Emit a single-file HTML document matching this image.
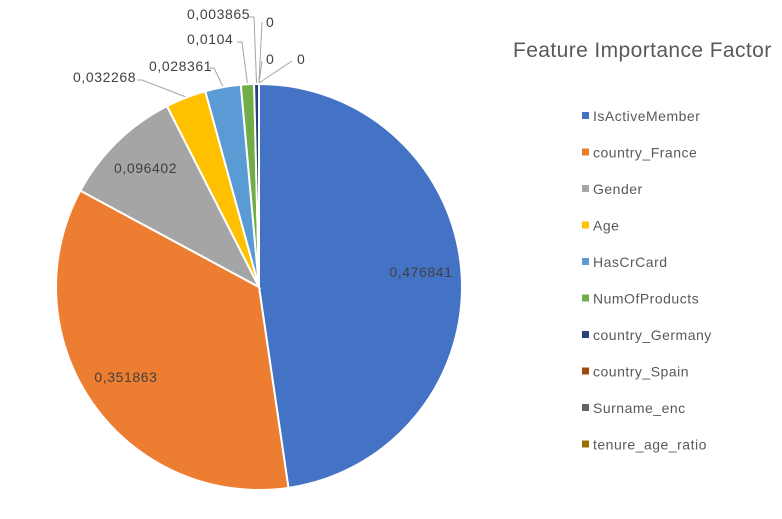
<!DOCTYPE html>
<html><head><meta charset="utf-8"><style>
body{margin:0;background:#fff;}
svg{font-family:"Liberation Sans",sans-serif;}
</style></head><body>
<svg id="chart" width="782" height="514">
<rect width="782" height="514" fill="#fff"/>
<text x="513" y="57" font-size="21" letter-spacing="0.4" fill="#595959">Feature Importance Factor</text>
<g id="slices"></g><g id="leaders"></g><g id="labels"></g><g id="legend"></g>
</svg>
<script>
const categories=["IsActiveMember","country_France","Gender","Age","HasCrCard","NumOfProducts","country_Germany","country_Spain","Surname_enc","tenure_age_ratio"];
const values=[0.476841,0.351863,0.096402,0.032268,0.028361,0.0104,0.003865,0,0,0];
const labels=["0,476841","0,351863","0,096402","0,032268","0,028361","0,0104","0,003865","0","0","0"];
const colors=["#4472C4","#ED7D31","#A5A5A5","#FFC000","#5B9BD5","#70AD47","#264478","#9E480E","#636363","#997300"];
const NS="http://www.w3.org/2000/svg";
const cx=259,cy=287,R=203;
const total=values.reduce((a,b)=>a+b,0);
function pt(a,r){return [cx+r*Math.sin(a),cy-r*Math.cos(a)];}
const gS=document.getElementById('slices'),gL=document.getElementById('labels'),gD=document.getElementById('leaders'),gG=document.getElementById('legend');
const ext=[null,null,null,[73,82,"start"],[149,71,"start"],[187,44,"start"],[187,19,"start"],[266,27,"start"],[266,64,"start"],[297,64,"start"]];
const elbow=[null,null,null,[142,80],[214,68],[242,42],[254,17],[262,22],[262,61],[292,61]];
let a0=0;
values.forEach((v,i)=>{
  const a1=a0+v/total*2*Math.PI;
  if(v>0){
    const p0=pt(a0,R),p1=pt(a1,R),large=(a1-a0)>Math.PI?1:0;
    const p=document.createElementNS(NS,'path');
    p.setAttribute('d',`M${cx},${cy}L${p0[0]},${p0[1]}A${R},${R} 0 ${large} 1 ${p1[0]},${p1[1]}Z`);
    p.setAttribute('fill',colors[i]);p.setAttribute('stroke','#fff');p.setAttribute('stroke-width','2');
    
    
    gS.appendChild(p);
  }
  const am=(a0+a1)/2;
  const t=document.createElementNS(NS,'text');
  t.setAttribute('font-size','14');t.setAttribute('fill','#404040');t.setAttribute('letter-spacing','0.6');
  if(!ext[i]){
    const q=pt(am,R*0.8);
    t.setAttribute('x',q[0]);t.setAttribute('y',q[1]+2);t.setAttribute('text-anchor','middle');
  } else {
    t.setAttribute('x',ext[i][0]);t.setAttribute('y',ext[i][1]);
    const e=pt(am,R+1);
    const l=document.createElementNS(NS,'polyline');
    const ex=elbow[i];
    l.setAttribute('points',`${ex[0]+(i>=7?0:-5)},${ex[1]} ${ex[0]},${ex[1]} ${e[0]},${e[1]}`);
    l.setAttribute('fill','none');l.setAttribute('stroke','#a6a6a6');l.setAttribute('stroke-width','1');
    
    
    gD.appendChild(l);
  }
  t.textContent=labels[i];
  
  
  gL.appendChild(t);
  a0=a1;
});
categories.forEach((c,i)=>{
  const y=116+i*36.5;
  const r=document.createElementNS(NS,'rect');
  r.setAttribute('x',582);r.setAttribute('y',y-4);r.setAttribute('width',7);r.setAttribute('height',7);r.setAttribute('fill',colors[i]);
  
  
  gG.appendChild(r);
  const t=document.createElementNS(NS,'text');
  t.setAttribute('x',593);t.setAttribute('y',y+5);t.setAttribute('font-size','14');t.setAttribute('letter-spacing','0.5');t.setAttribute('fill','#595959');
  t.textContent=c;
  
  
  gG.appendChild(t);
});
</script>
</body></html>
